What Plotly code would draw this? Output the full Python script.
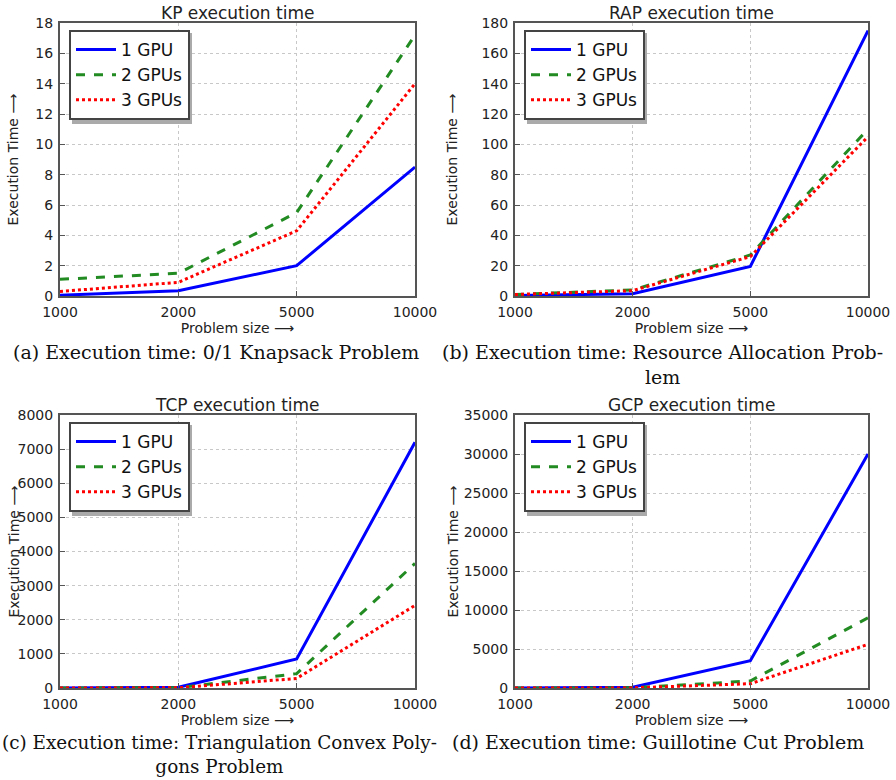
import plotly.graph_objects as go

sizes = ["1000", "2000", "5000", "10000"]
series_names = ["1 GPU", "2 GPUs", "3 GPUs"]

kp_1gpu = [0.05, 0.35, 2.0, 8.5]
kp_2gpu = [1.1, 1.5, 5.5, 17.2]
kp_3gpu = [0.3, 0.9, 4.3, 14.0]

rap_1gpu = [0.3, 1.5, 19.5, 175]
rap_2gpu = [1.0, 4.0, 27.0, 110]
rap_3gpu = [1.0, 3.5, 26.0, 105]

tcp_1gpu = [1, 20, 850, 7200]
tcp_2gpu = [0.5, 10, 420, 3650]
tcp_3gpu = [0.3, 5, 280, 2420]

gcp_1gpu = [2, 100, 3500, 30000]
gcp_2gpu = [0.5, 20, 900, 9000]
gcp_3gpu = [0.3, 10, 550, 5600]

titles = ["KP execution time", "RAP execution time", "TCP execution time", "GCP execution time"]
y_ranges = [[0, 18], [0, 180], [0, 8000], [0, 35000]]
y_dticks = [2, 20, 1000, 5000]
captions = [
    "(a) Execution time: 0/1 Knapsack Problem",
    "(b) Execution time: Resource Allocation Prob-<br>lem",
    "(c) Execution time: Triangulation Convex Poly-<br>gons Problem",
    "(d) Execution time: Guillotine Cut Problem",
]

panels = [
    [kp_1gpu, kp_2gpu, kp_3gpu],
    [rap_1gpu, rap_2gpu, rap_3gpu],
    [tcp_1gpu, tcp_2gpu, tcp_3gpu],
    [gcp_1gpu, gcp_2gpu, gcp_3gpu],
]

W, H = 896, 780
# pixel boxes: left, right, top, bottom
boxes = [(60, 415, 23, 296), (515, 868, 23, 296), (60, 415, 415, 688), (515, 868, 415, 688)]
cap_pos = [(216, 352), (662, 364.5), (219, 754.5), (658, 742)]
cap_sizes = [19, 19, 18.4, 19]
ylab_xs = [13, 452, 13, 452]
styles = [dict(color="#0000ff", dash="solid", width=3),
          dict(color="#228b22", dash="dash", width=3),
          dict(color="#ff0000", dash="dot", width=3)]

fig = go.Figure()
xpos = list(range(len(sizes)))
sans = "DejaVu Sans"
serif = "DejaVu Serif"
shapes = []
annotations = []

for i, (box, data) in enumerate(zip(boxes, panels)):
    l, r, t, b = box
    ax = "" if i == 0 else str(i + 1)
    leg = "legend" if i == 0 else f"legend{i+1}"
    for name, vals, st in zip(series_names, data, styles):
        fig.add_trace(go.Scatter(x=xpos, y=vals, mode="lines", name=name,
                                 line=st, xaxis="x" + ax, yaxis="y" + ax,
                                 legend=leg, cliponaxis=True))
    fig.layout["xaxis" + ax] = dict(
        domain=[l / W, r / W], anchor="y" + ax, range=[0, 3], automargin=False,
        tickvals=xpos, ticktext=sizes, showgrid=True, gridcolor="#c8c8c8",
        griddash="dot", gridwidth=1, showline=True, linecolor="#555555", linewidth=2,
        mirror=True, ticks="inside", ticklen=5, tickcolor="#555555",
        ticklabelstandoff=2,
        tickfont=dict(family=sans, size=14, color="#222222"), zeroline=False,
        title=dict(text="Problem size ⟶", font=dict(family=sans, size=14, color="#222222"), standoff=2),
    )
    fig.layout["yaxis" + ax] = dict(
        domain=[1 - b / H, 1 - t / H], anchor="x" + ax, range=y_ranges[i], automargin=False,
        dtick=y_dticks[i], tickformat="d", showgrid=True, gridcolor="#c8c8c8", griddash="dot",
        gridwidth=1, showline=True, linecolor="#555555", linewidth=2, mirror=True,
        ticks="inside", ticklen=5, tickcolor="#555555", ticklabelstandoff=2,
        tickfont=dict(family=sans, size=14, color="#222222"), zeroline=False,
    )
    fig.layout[leg] = dict(
        x=(l + 9) / W, y=1 - (t + 7) / H, xanchor="left", yanchor="top",
        bgcolor="white", bordercolor="#444444", borderwidth=2,
        font=dict(family=sans, size=17, color="#111111"), tracegroupgap=0,
        itemwidth=40,
    )
    # legend shadow
    shapes.append(dict(type="rect", xref="paper", yref="paper",
                       x0=(l + 12) / W, x1=(l + 132) / W,
                       y0=1 - (t + 101) / H, y1=1 - (t + 10) / H,
                       fillcolor="#aaaaaa", line=dict(width=0), layer="above"))
    annotations.append(dict(text=titles[i], xref="paper", yref="paper",
                            x=(l + r) / 2 / W, y=1 - (t - 10) / H, showarrow=False,
                            font=dict(family=sans, size=17, color="#222222"),
                            xanchor="center", yanchor="middle"))
    annotations.append(dict(text="Execution Time ⟶", xref="paper", yref="paper",
                            x=ylab_xs[i] / W, y=1 - ((t + b) / 2) / H, showarrow=False,
                            textangle=-90, font=dict(family=sans, size=14, color="#222222"),
                            xanchor="center", yanchor="middle"))
    cx, cy = cap_pos[i]
    annotations.append(dict(text=captions[i], xref="paper", yref="paper",
                            x=cx / W, y=1 - cy / H, showarrow=False,
                            font=dict(family=serif, size=cap_sizes[i], color="#111111"),
                            xanchor="center", yanchor="middle", align="center"))

fig.update_layout(width=W, height=H, margin=dict(l=0, r=0, t=0, b=0, autoexpand=False),
                  paper_bgcolor="white", plot_bgcolor="white",
                  shapes=shapes, annotations=annotations, showlegend=True)
fig.write_html("out.html", config={"displayModeBar": False},
               post_script="document.body.style.margin='0';document.body.style.overflow='hidden';")
